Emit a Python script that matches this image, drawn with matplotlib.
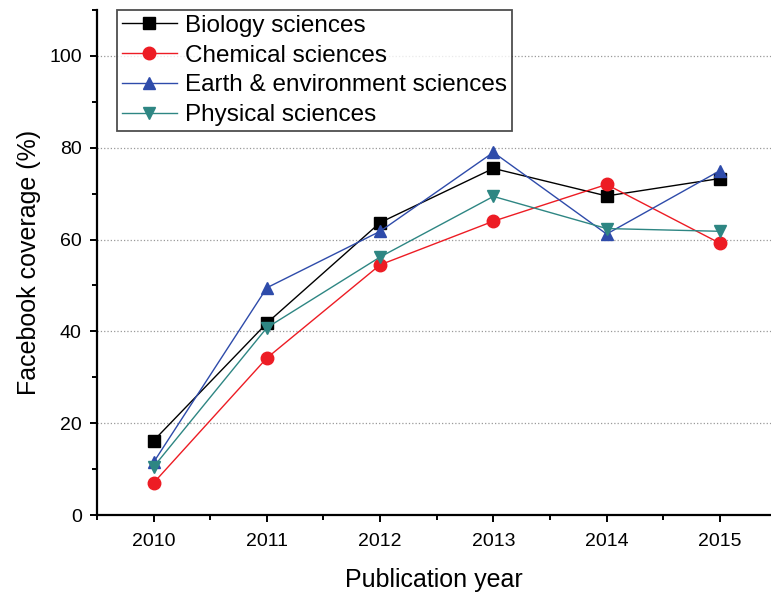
import numpy as np
import matplotlib
matplotlib.use("Agg")
import matplotlib.pyplot as plt
from matplotlib.ticker import MultipleLocator

plt.rcParams['font.family'] = ['Liberation Sans', 'DejaVu Sans']

# data
years = [2010, 2011, 2012, 2013, 2014, 2015]
biology = [16.2, 41.8, 63.7, 75.5, 69.5, 73.3]
chemical = [7.0, 34.2, 54.5, 64.0, 72.0, 59.2]
earth = [11.5, 49.5, 61.8, 79.0, 61.2, 75.0]
physical = [10.5, 40.8, 56.2, 69.4, 62.4, 61.8]

series = [
    ("Biology sciences", biology, "#000000", "s"),
    ("Chemical sciences", chemical, "#ED1C24", "o"),
    ("Earth & environment sciences", earth, "#2E4BAA", "^"),
    ("Physical sciences", physical, "#2E8683", "v"),
]

def main():
    fig = plt.figure(figsize=(7.71, 5.93), dpi=100)
    ax = fig.add_axes([0.1258, 0.1315, 0.874, 0.8516])
    for name, vals, col, mk in series:
        ax.plot(years, vals, color=col, marker=mk, markersize=9,
                linewidth=1.0, label=name)
    ax.set_xlim(2009.5, 2015.45)
    ax.set_ylim(0, 110)
    ax.set_yticks([0, 20, 40, 60, 80, 100])
    ax.yaxis.set_minor_locator(MultipleLocator(10))
    ax.set_xticks(years)
    ax.xaxis.set_minor_locator(MultipleLocator(0.5))
    ax.tick_params(which='both', direction='out', width=1.4, labelsize=14, pad=6)
    ax.tick_params(which='major', length=5)
    ax.tick_params(which='minor', length=3.5)
    ax.tick_params(axis='x', which='major', pad=8)
    for s in ['top', 'right']:
        ax.spines[s].set_visible(False)
    for s in ['left', 'bottom']:
        ax.spines[s].set_linewidth(1.6)
    ax.grid(axis='y', linestyle=':', color='#999999', linewidth=0.9)
    ax.set_axisbelow(True)
    ax.set_xlabel("Publication year", fontsize=18, labelpad=13)
    ax.set_ylabel("Facebook coverage (%)", fontsize=18, labelpad=6)
    leg = ax.legend(loc='upper left', bbox_to_anchor=(0.03, 1.0), fontsize=17.5,
                    frameon=True, fancybox=False, edgecolor='#222222',
                    borderpad=0.2, labelspacing=0.32, handlelength=2.25,
                    handletextpad=0.35, borderaxespad=0.0)
    leg.get_frame().set_linewidth(1.3)
    plt.savefig("out.png", dpi=100)

if __name__ == "__main__":
    main()
